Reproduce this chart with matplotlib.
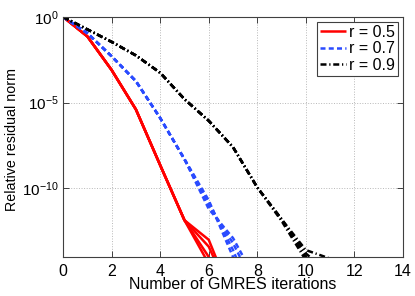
import matplotlib
matplotlib.use("Agg")
import matplotlib.pyplot as plt
import numpy as np

plt.rcParams['font.family'] = ['Liberation Sans', 'DejaVu Sans']
plt.rcParams['mathtext.fontset'] = 'custom'
plt.rcParams['mathtext.rm'] = 'Liberation Sans'
plt.rcParams['mathtext.it'] = 'Liberation Sans'

# log10 of the relative residual norm at each GMRES iteration (several runs per r)
iters = np.arange(0, 12)

r05_runs = [
    [0, -1.14, -3.1, -5.4, -8.65, -11.86, -13.0, -16.5],
    [0, -1.14, -3.1, -5.4, -8.65, -11.86, -13.4, -16.5],
    [0, -1.14, -3.1, -5.4, -8.65, -11.86, -14.0, -17.0],
    [0, -1.14, -3.1, -5.4, -8.65, -11.86, -14.4, -17.0],
]
r07_runs = [
    [0, -0.95, -2.3, -3.75, -5.9, -8.3, -10.7, -14.0, -17.0],
    [0, -0.95, -2.3, -3.75, -5.9, -8.3, -10.8, -13.6, -17.0],
    [0, -0.95, -2.3, -3.75, -5.9, -8.3, -11.0, -13.2, -16.0],
    [0, -0.95, -2.3, -3.75, -5.9, -8.3, -11.2, -12.9, -15.5],
]
r09_runs = [
    [0, -0.73, -1.46, -2.25, -3.26, -4.8, -6.06, -7.6, -9.95, -11.8, -13.6, -14.1],
    [0, -0.73, -1.46, -2.25, -3.26, -4.8, -6.06, -7.6, -9.95, -11.8, -13.8, -15.0],
    [0, -0.73, -1.46, -2.25, -3.26, -4.8, -6.06, -7.6, -9.95, -11.8, -14.0, -16.0],
    [0, -0.73, -1.46, -2.25, -3.26, -4.8, -6.06, -7.6, -9.95, -11.9, -14.2, -16.0],
]

labels = ['r = 0.5', 'r = 0.7', 'r = 0.9']
colors = ['#ff0000', '#2a4bff', '#000000']
dash_styles = [(0, ()), (0, (2.0, 1.3)), (0, (2.4, 1.1, 0.5, 1.1))]

fig = plt.figure(figsize=(4.15, 2.96), dpi=100)
ax = fig.add_axes([0.152, 0.132, 0.819, 0.811])

for runs, lab, c, ls in zip([r05_runs, r07_runs, r09_runs], labels, colors, dash_styles):
    for k, run in enumerate(runs):
        run = np.array(run)
        ax.semilogy(iters[:len(run)], 10.0 ** run, color=c, linestyle=ls,
                    linewidth=1.8, label=lab if k == 0 else None)

ax.set_xlim(0, 14)
ax.set_ylim(1e-14, 1)
ax.set_xticks(np.arange(0, 15, 2))
ax.set_yticks([1e-10, 1e-5, 1e0])
ax.set_yticklabels([r'$10^{-10}$', r'$10^{-5}$', r'$10^{0}$'])
ax.minorticks_off()

fs = 11.5
ax.tick_params(direction='in', top=True, right=True, length=4, width=0.6,
               labelsize=fs, colors='#262626', pad=5)
ax.tick_params(axis='y', labelsize=11, pad=3)
ax.tick_params(labelcolor='black')
for sp in ax.spines.values():
    sp.set_color('#404040')
    sp.set_linewidth(0.8)

ax.grid(True, linestyle=':', color='#b8b8b8', linewidth=0.7)

ax.set_xlabel('Number of GMRES iterations', fontsize=fs, labelpad=-1)
ax.set_ylabel('Relative residual norm', fontsize=10.3)
ax.yaxis.set_label_coords(-0.13, 0.49)

leg = ax.legend(loc='upper right', fontsize=fs, fancybox=False, framealpha=1,
                edgecolor='#404040', handlelength=1.6, handletextpad=0.2,
                borderpad=0.2, labelspacing=0.1, borderaxespad=0.3)
leg.get_frame().set_linewidth(0.8)

fig.savefig('out.png', dpi=100)
